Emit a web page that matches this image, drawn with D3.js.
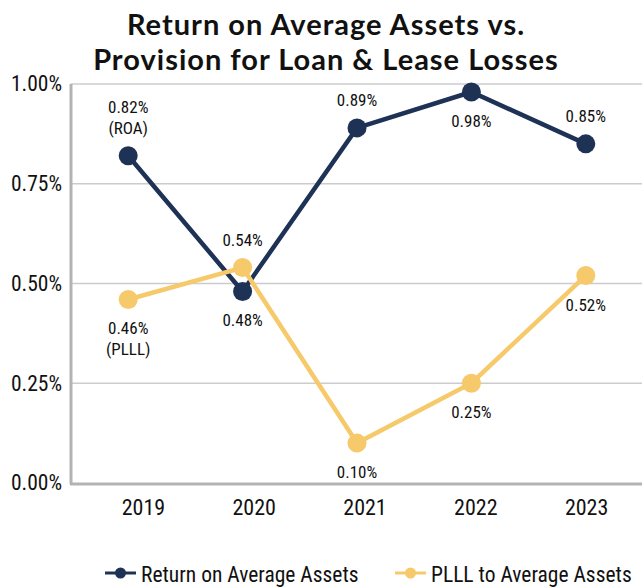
<!DOCTYPE html>
<meta charset="utf-8">
<style>
    body { margin: 0; background: #fff; }
    text { font-family: "Liberation Sans Narrow", "Roboto Condensed", "DejaVu Sans Condensed", sans-serif; fill: #111; }
    .title { font-family: Lato, "Open Sans", sans-serif; font-weight: bold; font-size: 29px; letter-spacing: 1px; }
</style>
<body>
<script src="https://cdn.jsdelivr.net/npm/d3@7"></script>
<script>

    var width = 642,
        height = 588;

    var years = ["2019", "2020", "2021", "2022", "2023"];
    var roa = [0.82, 0.48, 0.89, 0.98, 0.85];
    var plll = [0.46, 0.54, 0.10, 0.25, 0.52];
    var yTicks = [0, 0.25, 0.5, 0.75, 1.0];
    var titleLines = ["Return on Average Assets vs.", "Provision for Loan & Lease Losses"];

    // label placement: -1 above the point, 1 below
    var roaSide = [-1, 1, -1, 1, -1];
    var plllSide = [1, -1, 1, 1, 1];

    var navy = "#1e3256",
        gold = "#f6c96b";

    // points and category labels don't share the exact same spacing in the original
    var x = d3.scaleBand()
        .domain(years)
        .range([71, 643]);

    var xLab = d3.scaleBand()
        .domain(years)
        .range([88, 642]);

    var y = d3.scaleLinear()
        .domain([0, 1])
        .range([483, 84]);

    var svg = d3.select("body").append("svg")
        .attr("width", width)
        .attr("height", height);

    // title
    svg.selectAll(".title")
        .data(titleLines)
        .enter().append("text")
        .attr("class", "title")
        .attr("text-anchor", "middle")
        .attr("x", 326)
        .attr("y", function(d, i) { return 35 + i * 35; })
        .text(function(d) { return d; });

    // gridlines
    svg.selectAll(".grid")
        .data(yTicks.slice(1))
        .enter().append("line")
        .attr("x1", 71).attr("x2", width)
        .attr("y1", function(d) { return y(d); })
        .attr("y2", function(d) { return y(d); })
        .attr("stroke", "#cccccc")
        .attr("stroke-width", 1.5);

    var yAxis = svg.append("g")
        .attr("transform", "translate(71,0)")
        .call(d3.axisLeft(y).tickValues(yTicks).tickSize(0).tickPadding(9)
            .tickFormat(function(d) { return d3.format(".2f")(d) + "%"; }));
    yAxis.select(".domain").remove();
    yAxis.selectAll("text").style("font-size", "21.5px").attr("fill", "#111");

    var xAxis = svg.append("g")
        .attr("transform", "translate(0,483)")
        .call(d3.axisBottom(xLab).tickSize(0).tickPadding(16));
    xAxis.select(".domain").remove();
    xAxis.selectAll("text").style("font-size", "22px").attr("fill", "#111");

    // axis lines
    svg.append("line")
        .attr("x1", 71).attr("x2", 71).attr("y1", 84).attr("y2", 484)
        .attr("stroke", "#b3b3b3").attr("stroke-width", 3);
    svg.append("line")
        .attr("x1", 70).attr("x2", width).attr("y1", 484).attr("y2", 484)
        .attr("stroke", "#b3b3b3").attr("stroke-width", 3);

    var cx = function(i) { return x(years[i]) + x.bandwidth() / 2; };

    var line = d3.line()
        .x(function(d, i) { return cx(i); })
        .y(function(d) { return y(d); });

    function drawSeries(vals, color, sides, tag) {
        svg.append("path")
            .datum(vals)
            .attr("fill", "none")
            .attr("stroke", color)
            .attr("stroke-width", 4.5)
            .attr("d", line);

        svg.selectAll(".pt-" + tag)
            .data(vals)
            .enter().append("circle")
            .attr("cx", function(d, i) { return cx(i); })
            .attr("cy", function(d) { return y(d); })
            .attr("r", 9.5)
            .attr("fill", color);

        vals.forEach(function(d, i) {
            var lines = [d3.format(".2f")(d) + "%"];
            if (i === 0) lines.push("(" + tag + ")");
            var n = lines.length;
            lines.forEach(function(t, k) {
                var yy;
                if (sides[i] < 0) yy = y(d) - 22 - (n - 1 - k) * 21;
                else yy = y(d) + 35 + k * 21;
                svg.append("text")
                    .attr("x", cx(i)).attr("y", yy)
                    .attr("text-anchor", "middle")
                    .style("font-size", "17px")
                    .text(t);
            });
        });
    }

    drawSeries(roa, navy, roaSide, "ROA");
    drawSeries(plll, gold, plllSide, "PLLL");

    // legend
    var legend = [
        { name: "Return on Average Assets", color: navy, x: 105 },
        { name: "PLLL to Average Assets", color: gold, x: 395 }
    ];
    var lg = svg.selectAll(".lg")
        .data(legend)
        .enter().append("g")
        .attr("transform", function(d) { return "translate(" + d.x + ",573)"; });
    lg.append("line")
        .attr("x1", 0).attr("x2", 31)
        .attr("stroke", function(d) { return d.color; })
        .attr("stroke-width", 3);
    lg.append("circle")
        .attr("cx", 15.5).attr("r", 5.5)
        .attr("fill", function(d) { return d.color; });
    lg.append("text")
        .attr("x", 36).attr("y", 9)
        .style("font-size", "21.5px")
        .text(function(d) { return d.name; });

</script>
